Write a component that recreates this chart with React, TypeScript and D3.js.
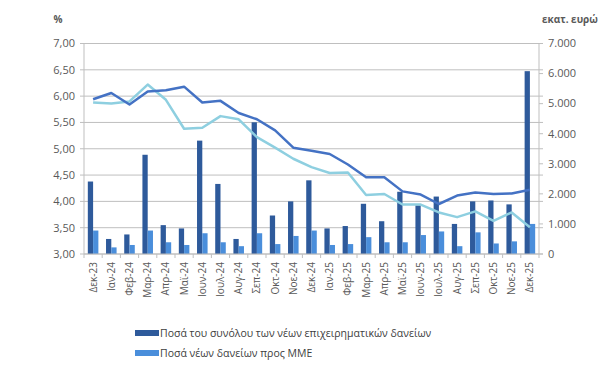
import React from "react";
import * as d3 from "d3";

const categories = [
  "Δεκ-23","Ιαν-24","Φεβ-24","Μαρ-24","Απρ-24","Μαϊ-24","Ιουν-24","Ιουλ-24","Αυγ-24","Σεπ-24","Οκτ-24","Νοε-24","Δεκ-24",
  "Ιαν-25","Φεβ-25","Μαρ-25","Απρ-25","Μαϊ-25","Ιουν-25","Ιουλ-25","Αυγ-25","Σεπ-25","Οκτ-25","Νοε-25","Δεκ-25",
];
const totalLoans = [2410, 500, 650, 3300, 960, 850, 3770, 2330, 500, 4380, 1280, 1750, 2450,
  850, 930, 1670, 1090, 2070, 1620, 1910, 1000, 1750, 1780, 1650, 6080];
const smeLoans = [780, 220, 300, 780, 390, 300, 690, 390, 260, 690, 330, 600, 780,
  300, 330, 560, 390, 390, 630, 750, 260, 720, 350, 420, 1000];
const rateTotal = [5.94, 6.06, 5.84, 6.09, 6.11, 6.18, 5.88, 5.91, 5.68, 5.56, 5.35, 5.02, 4.96,
  4.90, 4.70, 4.46, 4.46, 4.19, 4.13, 3.95, 4.11, 4.17, 4.14, 4.15, 4.22];
const rateSme = [5.88, 5.86, 5.90, 6.22, 5.93, 5.38, 5.40, 5.62, 5.56, 5.22, 5.02, 4.81, 4.65,
  4.54, 4.55, 4.12, 4.14, 3.94, 3.94, 3.79, 3.70, 3.81, 3.63, 3.79, 3.51];
const leftTicks = [3, 3.5, 4, 4.5, 5, 5.5, 6, 6.5, 7];
const rightTicks = [0, 1000, 2000, 3000, 4000, 5000, 6000, 7000];
const legendLabels = [
  "Ποσά του συνόλου των νέων επιχειρηματικών δανείων",
  "Ποσά νέων δανείων προς ΜΜΕ",
];

const W = 598, H = 373;
const L = 84, R = 539, T = 43.5, B = 254;
const FONT = "'Open Sans', 'Liberation Sans', sans-serif";
const C_DARK = "#2E5A9B";
const C_LIGHT = "#4A8EDB";
const C_LINE1 = "#4472C4";
const C_LINE2 = "#8ECFE0";
const GRID = "#BFBFBF";
const TXT = "#595959";

export default function App() {
  const x = d3.scaleBand<string>().domain(categories).range([L, R]).paddingInner(0).paddingOuter(0);
  const yL = d3.scaleLinear().domain([3, 7]).range([B, T]);
  const yR = d3.scaleLinear().domain([0, 7000]).range([B, T]);
  const bw = x.bandwidth();
  const barW = bw * 0.29;
  const cx = (c: string) => (x(c) as number) + bw / 2;
  const line = d3.line<number>().x((_, i) => cx(categories[i])).y((d) => yL(d));
  const fmtL = (v: number) => d3.format(".2f")(v).replace(".", ",");
  const fmtR = (v: number) => d3.format(",")(v).replace(/,/g, ".");

  return (
    <svg width={W} height={H} style={{ position: "absolute", left: 0, top: 0, background: "#fff" }} fontFamily={FONT}>
      {leftTicks.map((t) => (
        <g key={t}>
          <line x1={L - 4} x2={R + 4} y1={yL(t)} y2={yL(t)} stroke={GRID} strokeWidth={1} />
          <text x={L - 9} y={yL(t)} dy="0.35em" textAnchor="end" fontSize={11} fill={TXT}>{fmtL(t)}</text>
        </g>
      ))}
      {rightTicks.map((t) => (
        <text key={t} x={R + 9} y={yR(t)} dy="0.35em" textAnchor="start" fontSize={11} fill={TXT}>{fmtR(t)}</text>
      ))}
      {rightTicks.map((t) => (
        <line key={"rt" + t} x1={R} x2={R + 4} y1={yR(t)} y2={yR(t)} stroke={GRID} />
      ))}
      <line x1={L} x2={L} y1={T} y2={B} stroke={GRID} />
      <line x1={R} x2={R} y1={T} y2={B} stroke={GRID} />
      {categories.map((c, i) => (
        <line key={"xt" + i} x1={x(c) as number} x2={x(c) as number} y1={B} y2={B + 4} stroke={GRID} />
      ))}
      <line x1={R} x2={R} y1={B} y2={B + 4} stroke={GRID} />
      {categories.map((c, i) => (
        <g key={"b" + i}>
          <rect x={cx(c) - barW} y={yR(totalLoans[i])} width={barW} height={B - yR(totalLoans[i])} fill={C_DARK} />
          <rect x={cx(c)} y={yR(smeLoans[i])} width={barW} height={B - yR(smeLoans[i])} fill={C_LIGHT} />
        </g>
      ))}
      <line x1={L} x2={R} y1={B} y2={B} stroke={GRID} />
      <path d={line(rateSme) as string} fill="none" stroke={C_LINE2} strokeWidth={2.5} strokeLinejoin="round" />
      <path d={line(rateTotal) as string} fill="none" stroke={C_LINE1} strokeWidth={2.5} strokeLinejoin="round" />
      {categories.map((c, i) => (
        <text key={"xl" + i} transform={`translate(${cx(c) + 3.5},${B + 8}) rotate(-90)`} textAnchor="end" fontSize={10} fill={TXT}>{c}</text>
      ))}
      <text x={58} y={23} textAnchor="middle" fontSize={10} fontWeight="bold" fill={TXT}>%</text>
      <text x={570} y={23} textAnchor="middle" fontSize={10} fontWeight="bold" fill={TXT}>εκατ. ευρώ</text>
      {legendLabels.map((lab, i) => (
        <g key={"lg" + i} transform={`translate(135,${333 + i * 20})`}>
          <rect x={0} y={-3} width={24} height={6} fill={i === 0 ? C_DARK : C_LIGHT} />
          <text x={25} y={0} dy="0.35em" fontSize={10.5} fill="#404040">{lab}</text>
        </g>
      ))}
    </svg>
  );
}
